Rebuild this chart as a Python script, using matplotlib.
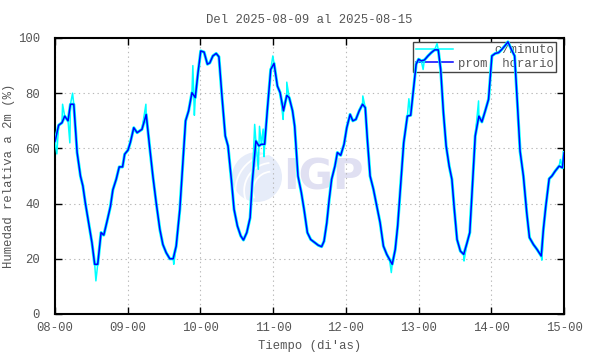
import matplotlib
matplotlib.use("Agg")
import matplotlib.pyplot as plt
from matplotlib.patches import Arc, Ellipse
import numpy as np

# ---- data (hours since 2025-08-08 00:00, relative humidity %) ----
hourly_h = [0, 1.2, 2.3, 3.2, 4.3, 5.1, 6.2, 7.3, 8.4, 9.2, 10, 11.1, 12.2, 13.1, 14.1,
            15.2, 16.1, 17.2, 18.3, 19.1, 20.2, 21.2, 22.3, 23, 24.1,
            24.9, 26, 27.1, 28.7, 30.1, 31.2, 32.3, 33.4, 34.6, 35.6, 36.7, 37.9, 39,
            40, 41.2, 42.2, 43.1, 44.1, 45.2, 46.3, 47.2, 48.1,
            49.2, 50.3, 51.1, 52.1, 53.2, 54.1, 55.1, 56.2, 57.1, 58.2, 59.1, 60.2,
            61.3, 62.2, 63.3, 64.4, 65.1, 66.3, 67.3, 68.1, 69.2, 70.1, 71.2, 72.3,
            73.4, 74.3, 75.4, 76.5, 77.3, 78.4, 79.1, 80.2, 81.3, 82.2, 83.3, 84.4,
            85.8, 86.9, 88, 88.8, 89.7, 90.5, 91.3, 92.4, 93.2, 94.3, 95.4, 96.3,
            97.4, 98.3, 99.3, 100.4, 101.5, 102.4, 103.1, 104, 105.1, 106.2, 107.3,
            108.4, 109.5, 110.4, 111.3, 112.3, 113.1, 114.3, 115.1, 116.3, 117.4,
            118.3, 119.2, 120,
            120.9, 121.9, 123.1, 124.2, 125.3, 126.5, 127.3, 128.2, 129.1, 130.1,
            131, 131.8, 132.7, 133.8, 134.9, 136, 136.9, 137.9, 138.7, 139.9, 140.9,
            142, 143.1, 144.2,
            145.3, 146.4, 147.5, 148.6, 149.5, 150.6, 151.7, 152.6, 153.5, 154.6,
            155.7, 156.6, 157.9, 159.1, 160.5, 161.2, 162, 163.1, 164, 165.1, 166.4,
            167.5, 168]
hourly_v = [62.5, 68.4, 69.3, 71.7, 70, 76, 76, 58.5, 50, 46.4, 40.3, 33, 25.8, 18, 18,
            29.5, 28.6, 33.7, 39, 45, 48.8, 53.3, 53.3, 57.9, 59.4,
            62.3, 67.5, 65.7, 66.9, 72.3, 60.9, 50, 40.3, 30.7, 25.2, 22.2, 20, 20,
            24.6, 37.9, 54.8, 70, 73.6, 80.2, 78.4, 87.4, 95.3,
            94.9, 90.5, 91, 93.5, 94.4, 93.2, 79, 64.5, 60.9, 48.8, 37.9, 31.9,
            28.3, 26.8, 29.5, 34.9, 47.6, 62.7, 60.9, 61.5, 61.5, 74.2, 88.6, 90.8,
            82.6, 80.2, 73.6, 79.2, 78.4, 73.6, 68.1, 50, 44, 37.9, 29.5, 27,
            25.8, 24.9, 24.4, 26.4, 33, 41.5, 48.8, 53.6, 58.5, 57.5, 61.5, 67.5,
            72.3, 70, 70.5, 73.6, 76, 74.8, 63.3, 50, 45.2, 39.1, 33.1,
            24.6, 21.6, 19.8, 18, 23.4, 31.9, 50, 62.1, 71.7, 72,
            81.4, 90.5, 92.3,
            91.7, 92, 93.5, 94.7, 95.7, 95.7, 88.6, 73, 60.9, 53.6,
            48.8, 37.9, 27, 22.8, 21.6, 25.8, 29.5, 48.8, 64.5, 71.7, 69.6,
            73.6, 77.8, 93.5,
            94.4, 94.7, 95.9, 97.3, 98.6, 95.9, 93.5, 76.6, 59, 50,
            36.7, 27.7, 25.2, 23.4, 21, 30.7, 39.1, 49, 50, 51.8, 53.6,
            53, 58.5]

# minute-data excursions (added to hourly trace)
spike_h = [0.6, 2.5, 4.9, 5.8, 13.5, 30.0, 39.2, 45.5, 46.0, 65.9, 67.1, 67.5, 68.7, 69.0,
           71.9, 75.3, 76.5, 101.6, 111.0, 116.8, 121.5, 126.1, 135.0, 139.8, 160.7, 166.8]
spike_v = [58, 76, 62, 80, 12, 76, 18, 90, 72, 68.7, 52.4, 68, 67, 57,
           93.5, 70.5, 84, 79, 15, 78, 88.6, 98, 19.2, 77.2, 19.5, 56]

xtick_labels = ["08-00", "09-00", "10-00", "11-00", "12-00", "13-00", "14-00", "15-00"]

# ---- figure ----
plt.rcParams['font.family'] = ['Liberation Mono', 'DejaVu Sans Mono']
fs = 8.8
tc = '#555555'

fig = plt.figure(figsize=(5.9, 3.54), dpi=100)
ax = fig.add_axes([55/590, 1-314/354, (564-55)/590, (314-38)/354])

# watermark logo
def px2data(x, y):
    return (x-55)/509*168, (314-y)/2.76
lcx, lcy = px2data(257, 177)
ew, eh = 50/509*168, 50/2.76
ax.add_patch(Ellipse((lcx, lcy), ew, eh, facecolor='#e6ecf9', edgecolor='none', zorder=0))
for r in [0.55, 0.8, 1.05]:
    ax.add_patch(Arc((lcx+5, lcy-5), ew*r*1.4, eh*r*1.4, theta1=95, theta2=205,
                     color='white', lw=1.3, zorder=0.5))
tx, ty = px2data(323, 178)
ax.text(tx, ty, "IGP", fontsize=30, fontweight='bold', family='DejaVu Sans',
        color='#e0e0f2', ha='center', va='center', zorder=0)

# data
mh = np.array(hourly_h + spike_h)
mv = np.array(hourly_v + spike_v)
order = np.argsort(mh, kind='stable')
ax.plot(mh[order], mv[order], color='#00ffff', lw=1.1, zorder=3, label='c/minuto')
ax.plot(hourly_h, hourly_v, color='#00ffff', lw=2.2, zorder=3)
ax.plot(hourly_h, hourly_v, color='#0000ff', lw=1.1, zorder=4, label='prom. horario')

ax.set_xlim(0, 168)
ax.set_ylim(0, 100)
ax.set_xticks(np.arange(0, 169, 24))
ax.set_xticklabels(xtick_labels)
ax.set_yticks(np.arange(0, 101, 20))
ax.grid(True, color='#b8b8b8', linestyle=(0, (1.2, 3)), lw=0.8)
ax.set_axisbelow(True)
ax.tick_params(direction='in', length=5, width=1, top=True, right=True,
               labelsize=fs, labelcolor=tc)
ax.tick_params(axis='x', pad=6)
ax.tick_params(axis='y', pad=11)
for s in ax.spines.values():
    s.set_linewidth(1.5)
    s.set_color('black')

ax.set_title("Del 2025-08-09 al 2025-08-15", fontsize=fs, color=tc, pad=11)
ax.set_xlabel("Tiempo (di'as)", fontsize=fs, color=tc, labelpad=4)
ax.set_ylabel("Humedad relativa a 2m (%)", fontsize=fs, color=tc, labelpad=2)

h1, = ax.plot([], [], color='#00ffff', lw=1.1)
h2, = ax.plot([], [], color='#0000ff', lw=1.1)
leg = ax.legend([h1, h2], ["     c/minuto", "prom. horario"], loc='upper right',
                bbox_to_anchor=(556/590, 1-42/354), bbox_transform=fig.transFigure,
                fontsize=fs, frameon=True, fancybox=False, edgecolor='#444444',
                framealpha=1, borderpad=0.2, handlelength=3.1, handletextpad=0.35,
                labelspacing=0.1, borderaxespad=0)
leg.get_frame().set_linewidth(1.0)
for t in leg.get_texts():
    t.set_color(tc)
leg.set_zorder(2)

fig.savefig("out.png", dpi=100)
